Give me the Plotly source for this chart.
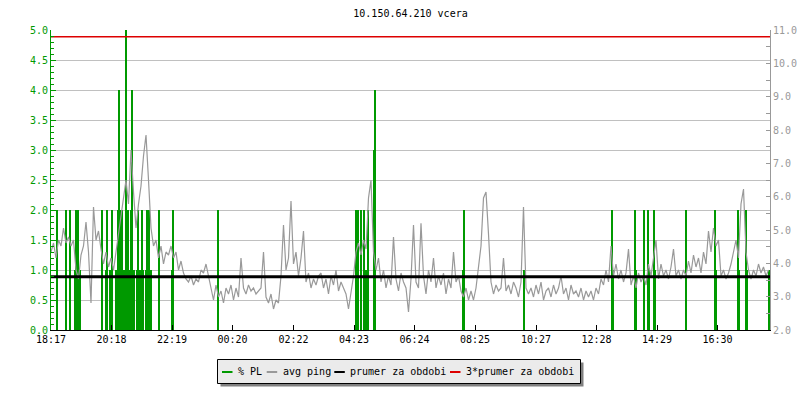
import plotly.graph_objects as go

# ---------------- data ----------------
title_text = "10.150.64.210 vcera"
start_clock = "18:17"
sample_step_min = 5
span_min = 1438

tick_labels = ["18:17", "20:18", "22:19", "00:20", "02:22", "04:23",
               "06:24", "08:25", "10:27", "12:28", "14:29", "16:30"]

# avg ping [ms], one value every 5 minutes starting 18:17 (12 per hour)
avg_ping = [
    4.34, 4.61, 4.16, 4.70, 4.52, 5.06, 4.61, 4.79, 4.52, 4.70, 3.80, 3.53,
    4.25, 4.52, 5.24, 4.34, 2.81, 5.69, 4.70, 4.97, 4.43, 3.98, 4.34, 3.89,
    4.16, 3.80, 4.34, 4.88, 5.42, 5.96, 6.50, 5.78, 7.40, 6.14, 5.06, 5.78,
    6.32, 7.22, 7.85, 6.50, 5.06, 4.52, 4.70, 4.16, 4.52, 3.98, 4.34, 4.25,
    4.52, 4.16, 4.34, 3.80, 4.07, 3.71, 3.53, 3.44, 3.62, 3.35, 3.53, 3.44,
    3.80, 3.71, 3.98, 3.62, 3.26, 2.90, 3.35, 2.99, 3.17, 2.81, 3.26, 3.08,
    3.35, 2.90, 3.26, 2.99, 4.16, 3.26, 3.08, 3.35, 3.17, 3.26, 3.08, 3.17,
    3.26, 4.34, 2.99, 2.81, 3.08, 2.63, 2.90, 2.81, 3.62, 5.15, 3.80, 4.16,
    5.87, 3.98, 4.34, 3.62, 4.16, 4.97, 3.44, 3.71, 3.26, 3.53, 3.35, 3.62,
    3.71, 3.26, 3.53, 3.08, 3.62, 3.35, 3.80, 3.17, 3.44, 3.26, 3.08, 2.63,
    3.08, 3.62, 4.34, 4.61, 4.25, 4.70, 4.43, 5.96, 6.50, 4.34, 3.80, 4.16,
    3.44, 3.80, 3.26, 3.62, 3.35, 4.79, 3.53, 3.17, 3.71, 3.44, 3.26, 2.54,
    3.53, 5.15, 3.44, 3.26, 5.20, 3.62, 3.08, 3.80, 3.44, 4.16, 3.26, 3.62,
    3.35, 3.71, 3.08, 3.53, 3.26, 4.34, 3.44, 3.62, 3.17, 2.99, 3.26, 2.90,
    3.17, 2.90, 3.26, 3.98, 4.52, 5.96, 6.14, 4.88, 3.44, 3.08, 3.35, 3.17,
    3.26, 4.16, 3.17, 3.35, 3.08, 3.44, 3.26, 2.99, 3.44, 5.69, 3.26, 3.08,
    3.26, 2.99, 3.35, 3.08, 3.44, 2.90, 3.17, 3.26, 2.99, 3.35, 3.08, 3.26,
    3.62, 3.08, 3.26, 2.90, 3.35, 3.08, 3.17, 2.99, 3.26, 2.90, 3.17, 2.99,
    3.17, 2.90, 3.26, 3.08, 3.53, 3.35, 3.80, 3.44, 4.52, 3.62, 3.98, 3.53,
    3.80, 3.44, 3.71, 4.43, 3.35, 3.62, 3.26, 3.71, 3.44, 3.62, 3.35, 3.98,
    3.62, 4.16, 4.70, 3.53, 3.98, 3.62, 3.80, 3.53, 3.89, 4.43, 3.62, 3.80,
    3.53, 3.80, 3.62, 4.07, 3.71, 4.25, 3.89, 4.16, 3.71, 4.34, 3.98, 4.97,
    4.34, 5.06, 4.52, 4.70, 3.62, 3.80, 3.53, 3.71, 3.98, 4.34, 4.70, 4.16,
    5.78, 6.23, 4.34, 3.80, 3.53, 3.80, 3.62, 3.98, 3.71, 3.89, 3.62, 3.80,
]

# packet loss events [%]
pl_times = [
    "18:30", "18:48", "18:56", "19:05", "19:07", "19:09", "19:11", "19:13", "19:15",
    "20:00", "20:07", "20:09", "20:15", "20:20",
    "20:27", "20:29", "20:31", "20:33", "20:35", "20:37", "20:39", "20:41", "20:43",
    "20:45", "20:47", "20:49", "20:51", "20:53", "20:57", "20:59", "21:01", "21:03",
    "21:09", "21:11", "21:13", "21:15", "21:17", "21:19", "21:21",
    "21:27", "21:29", "21:31", "21:33", "21:35", "21:37",
    "21:54", "22:19", "22:21", "23:52",
    "04:27", "04:29", "04:31", "04:37", "04:43", "04:45", "04:47", "04:49", "04:51",
    "05:04", "05:06",
    "08:01", "08:03", "10:03",
    "12:59", "13:01", "13:45", "13:47", "14:03", "14:11", "14:13", "14:24", "14:26",
    "15:27", "16:26", "16:28", "17:12", "17:14", "17:27", "17:29", "18:13",
]
pl_values = [
    2, 2, 2, 1, 2, 1, 2, 1, 1,
    2, 1, 2, 1, 2,
    1, 1, 2, 4, 1, 2, 2, 1, 1,
    1, 5, 1, 2, 1, 2, 4, 1, 1,
    1, 2, 1, 1, 1, 2, 1,
    1, 2, 1, 2, 1, 1,
    2, 1, 2, 2,
    2, 1, 2, 2, 2, 1, 1, 1, 2,
    3, 4,
    1, 2, 1,
    2, 1, 2, 1, 2, 2, 1, 2, 1,
    2, 2, 1, 2, 1, 2, 1, 1,
]

avg_period = 3.6          # prumer za obdobi [ms]
avg_period_3x = 10.8      # 3*prumer za obdobi [ms]

series_names = ["% PL", "avg ping", "prumer za obdobi", "3*prumer za obdobi"]
series_colors = ["#009900", "#999999", "#000000", "#dd0000"]

# ---------------- helpers ----------------
def clock_to_min(s):
    h, m = map(int, s.split(":"))
    sh, sm = map(int, start_clock.split(":"))
    return ((h * 60 + m) - (sh * 60 + sm)) % 1440

ping_x = [i * sample_step_min for i in range(len(avg_ping))]
pl_x = [clock_to_min(t) for t in pl_times]
tick_vals = [clock_to_min(t) for t in tick_labels]

MONO = "DejaVu Sans Mono"
W, H = 800, 400
L, R, T, B = 51, 30, 30, 70
PW, PH = W - L - R, H - T - B

def px(x):
    return (x - L) / PW

def py(y):
    return (H - B - y) / PH

fig = go.Figure()

fig.add_trace(go.Bar(
    x=pl_x, y=pl_values, width=3.0, name=series_names[0],
    marker=dict(color=series_colors[0], line=dict(width=0)),
    yaxis="y", showlegend=False,
))
fig.add_trace(go.Scatter(
    x=ping_x, y=avg_ping, mode="lines",
    line=dict(color=series_colors[1], width=1.2), name=series_names[1],
    yaxis="y2", showlegend=False,
))
fig.add_trace(go.Scatter(
    x=[0, span_min], y=[avg_period, avg_period], mode="lines",
    line=dict(color=series_colors[2], width=3), name=series_names[2],
    yaxis="y2", showlegend=False,
))
fig.add_trace(go.Scatter(
    x=[0, span_min], y=[avg_period_3x, avg_period_3x], mode="lines",
    line=dict(color=series_colors[3], width=1.5), name=series_names[3],
    yaxis="y2", showlegend=False,
))

green = series_colors[0]
gray_axis = "#999999"

fig.update_layout(
    width=W, height=H,
    margin=dict(l=L, r=R, t=T, b=B, pad=0, autoexpand=False),
    paper_bgcolor="white", plot_bgcolor="white",
    font=dict(family=MONO, size=10, color="black"),
    bargap=0,
    title=dict(text=title_text, x=px(410.5), xref="paper", xanchor="center",
               y=1 - 13 / H, yref="container", yanchor="middle",
               font=dict(family=MONO, size=10, color="black")),
    xaxis=dict(
        range=[0, span_min], tickvals=tick_vals, ticktext=tick_labels,
        ticks="inside", ticklen=5, tickcolor="black", tickwidth=1,
        showline=True, linecolor="black", linewidth=1,
        showgrid=False, zeroline=False, automargin=False,
        tickfont=dict(family=MONO, size=10, color="black"),
    ),
    yaxis=dict(
        range=[0, 5], dtick=0.5, tick0=0, tickformat=".1f",
        ticks="inside", ticklen=5, tickcolor=green, automargin=False,
        showline=True, linecolor=green, linewidth=1,
        showgrid=True, gridcolor="#c0c0c0", gridwidth=1, zeroline=False,
        tickfont=dict(family=MONO, size=10, color=green),
        minor=dict(dtick=0.1, ticks="inside", ticklen=3, tickcolor=green, showgrid=False),
    ),
    yaxis2=dict(
        range=[2, 11], dtick=1, tick0=0, tickformat=".1f", overlaying="y", side="right",
        anchor="x", automargin=False,
        ticks="inside", ticklen=4, tickcolor=gray_axis,
        showline=True, linecolor=gray_axis, linewidth=1,
        showgrid=False, zeroline=False,
        tickfont=dict(family=MONO, size=10, color=gray_axis),
        minor=dict(dtick=0.5, ticks="inside", ticklen=4, tickcolor=gray_axis, showgrid=False),
    ),
)

# ---------------- manual legend ----------------
box_l, box_r, box_t, box_b = 217.5, 580.5, 359.5, 383.5
fig.add_shape(type="rect", xref="paper", yref="paper",
              x0=px(box_l + 3), x1=px(box_r + 3), y0=py(box_b + 3), y1=py(box_t + 3),
              line=dict(width=0), fillcolor="#808080", layer="above")
fig.add_shape(type="rect", xref="paper", yref="paper",
              x0=px(box_l), x1=px(box_r), y0=py(box_b), y1=py(box_t),
              line=dict(width=1, color="black"), fillcolor="#ebebeb", layer="above")

sym_x = [222, 266.7, 334.3, 450]
ly = 372
for name, color, sx in zip(series_names, series_colors, sym_x):
    fig.add_shape(type="line", xref="paper", yref="paper",
                  x0=px(sx), x1=px(sx + 10.5), y0=py(ly), y1=py(ly),
                  line=dict(color=color, width=2), layer="above")
    fig.add_annotation(xref="paper", yref="paper", x=px(sx + 14), y=py(ly - 0.5),
                       text=name, showarrow=False, xanchor="left", yanchor="middle",
                       font=dict(family=MONO, size=10, color="black"))

fig.write_html(
    "out.html",
    config={"displayModeBar": False},
    post_script="document.body.style.margin='0';document.body.style.padding='0';",
)
